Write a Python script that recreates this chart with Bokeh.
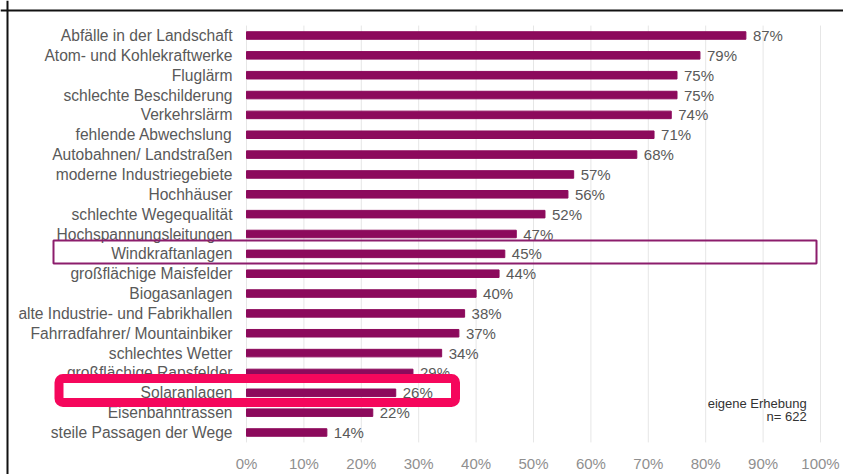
from bokeh.plotting import figure
from bokeh.models import ColumnDataSource, Range1d, BoxAnnotation, Span
from bokeh.core.properties import value
from bokeh.embed import file_html
from bokeh.resources import INLINE

categories = [
    "Abfälle in der Landschaft",
    "Atom- und Kohlekraftwerke",
    "Fluglärm",
    "schlechte Beschilderung",
    "Verkehrslärm",
    "fehlende Abwechslung",
    "Autobahnen/ Landstraßen",
    "moderne Industriegebiete",
    "Hochhäuser",
    "schlechte Wegequalität",
    "Hochspannungsleitungen",
    "Windkraftanlagen",
    "großflächige Maisfelder",
    "Biogasanlagen",
    "alte Industrie- und Fabrikhallen",
    "Fahrradfahrer/ Mountainbiker",
    "schlechtes Wetter",
    "großflächige Rapsfelder",
    "Solaranlagen",
    "Eisenbahntrassen",
    "steile Passagen der Wege",
]
values = [87, 79, 75, 75, 74, 71, 68, 57, 56, 52, 47, 45, 44, 40, 38, 37, 34, 29, 26, 22, 14]
x_ticks = [0, 10, 20, 30, 40, 50, 60, 70, 80, 90, 100]
tick_labels = [f"{t}%" for t in x_ticks]
note_lines = ["eigene Erhebung", "n= 622"]

FONT = "Liberation Sans"
BAR = "#8C0A5C"

n = len(categories)
rows = list(range(n))  # row index, top to bottom

bars = ColumnDataSource(dict(row=rows, cat=categories, val=values,
                             lab=[f"{v}%" for v in values]))
ticks = ColumnDataSource(dict(x=x_ticks, lab=tick_labels,
                              y0=[-0.5] * len(x_ticks), y1=[n - 0.5] * len(x_ticks)))

# frame covers the whole canvas; 0..100 % maps onto the original plot area
W, H = 843, 474
PX0, PXPER = 246.0, 5.74      # pixel of 0 %, pixels per 1 %
PY0, PYROW = 35.0, 19.85      # pixel of first row centre, pixels per row
p = figure(
    width=W, height=H,
    x_range=Range1d(-PX0 / PXPER, (W - PX0) / PXPER),
    y_range=Range1d((H - PY0) / PYROW, -PY0 / PYROW),
    output_backend="svg", toolbar_location=None,
    min_border=0,
)
p.outline_line_color = None
p.axis.visible = False
p.grid.visible = False
p.background_fill_color = "white"
p.border_fill_color = "white"

# vertical gridlines
p.segment(x0="x", x1="x", y0="y0", y1="y1", source=ticks,
          line_color="#e6e6e6", line_width=1)

# bars
p.hbar(y="row", right="val", left=0, height=0.38, source=bars, color=BAR)

# value labels
p.text(x="val", y="row", text="lab", source=bars, x_offset=7,
       text_font=value(FONT), text_font_size="15px", text_color="#595959",
       text_baseline="middle", text_align="left")

# category labels
p.text(x=0, y="row", text="cat", source=bars, x_offset=-14,
       text_font=value(FONT), text_font_size="15.6px", text_color="#595959",
       text_baseline="middle", text_align="right")

# x tick labels
p.text(x="x", y="y1", text="lab", source=ticks, y_offset=21,
       text_font=value(FONT), text_font_size="15px", text_color="#8f8f8f",
       text_baseline="middle", text_align="center")

# note
note = ColumnDataSource(dict(x=[97.6, 97.6], y=[18.55, 19.2], t=note_lines))
p.text(x="x", y="y", text="t", source=note,
       text_font=value(FONT), text_font_size="13px", text_color="#333333",
       text_baseline="middle", text_align="right")

# outer frame: top and left edges (others lie outside the window)
p.add_layout(Span(location=10, location_units="canvas", dimension="width",
                  line_color="#111111", line_width=2))
p.add_layout(Span(location=7, location_units="canvas", dimension="height",
                  line_color="#111111", line_width=2))

def box(l, r, t, b, **kw):
    return BoxAnnotation(left=l, right=r, top=t, bottom=b,
                         left_units="canvas", right_units="canvas",
                         top_units="canvas", bottom_units="canvas",
                         fill_alpha=0, line_alpha=1, **kw)

# highlight boxes
p.add_layout(box(53, 816, 240, 263, line_color="#8C1D6C", line_width=2))
p.add_layout(box(58.5, 455, 378, 402, line_color="#F5075C", line_width=9,
                 border_radius=4))

open("out.html", "w").write(file_html(p, INLINE))
